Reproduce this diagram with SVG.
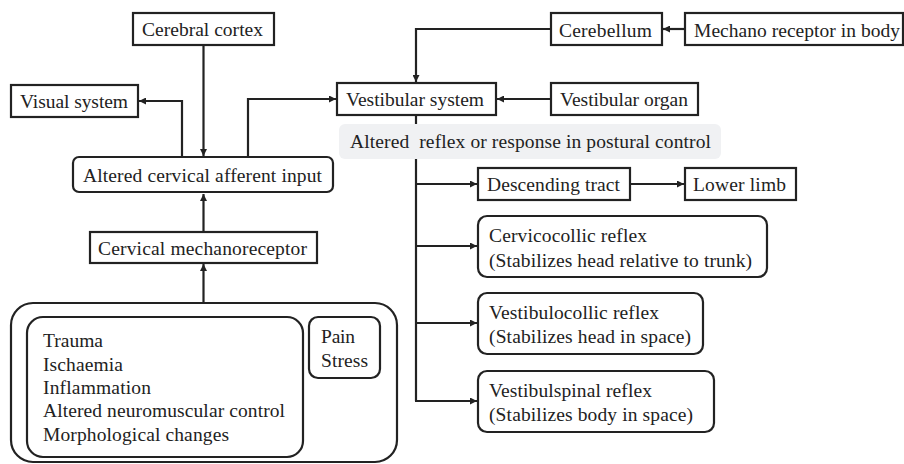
<svg xmlns="http://www.w3.org/2000/svg" width="904" height="464" viewBox="0 0 904 464">
<style>
.b{fill:#fff;stroke:#222;stroke-width:2.2}
.t{font-family:"Liberation Serif","Times New Roman","DejaVu Serif",serif;font-size:19.5px;fill:#222}
.m{text-anchor:middle}
.c{fill:none;stroke:#222;stroke-width:2.2}
</style>
<defs>
<marker id="a" viewBox="0 0 10 10" refX="10" refY="5" markerWidth="8" markerHeight="7" markerUnits="userSpaceOnUse" orient="auto">
<path d="M0,0L10,5L0,10z" fill="#222"/>
</marker>
</defs>
<rect width="904" height="464" fill="#fff"/>
<g id="connectors">
<path class="c" d="M203.5,45V156" marker-end="url(#a)"/>
<path class="c" d="M182,157V101H139" marker-end="url(#a)"/>
<path class="c" d="M248,157V99H336" marker-end="url(#a)"/>
<path class="c" d="M203.5,232V194" marker-end="url(#a)"/>
<path class="c" d="M203.5,303V264" marker-end="url(#a)"/>
<path class="c" d="M551,29H416V82" marker-end="url(#a)"/>
<path class="c" d="M685,29H663" marker-end="url(#a)"/>
<path class="c" d="M551,99H497" marker-end="url(#a)"/>
<path class="c" d="M416,115V401"/>
<path class="c" d="M415,184H477" marker-end="url(#a)"/>
<path class="c" d="M415,246H477" marker-end="url(#a)"/>
<path class="c" d="M415,323H477" marker-end="url(#a)"/>
<path class="c" d="M415,401H477" marker-end="url(#a)"/>
<path class="c" d="M630,184H684" marker-end="url(#a)"/>
</g>
<g id="cerebral-cortex"><rect class="b" x="133" y="13" width="141" height="32"/><text class="t" x="142" y="36" textLength="121">Cerebral cortex</text></g>
<g id="visual-system"><rect class="b" x="11" y="85" width="127" height="32"/><text class="t" x="20" y="108" textLength="108">Visual system</text></g>
<g id="altered-cervical"><rect class="b" x="73" y="157" width="260" height="35" rx="6"/><text class="t" x="83" y="182" textLength="239">Altered cervical afferent input</text></g>
<g id="cervical-mechanoreceptor"><rect class="b" x="90" y="232" width="227" height="31"/><text class="t" x="98" y="255" textLength="209">Cervical mechanoreceptor</text></g>
<g id="causes">
<rect class="b" x="11" y="303" width="386" height="159" rx="22"/>
<rect class="b" x="27" y="317" width="276" height="140" rx="16"/>
<text class="t" x="43" y="347" textLength="60">Trauma</text>
<text class="t" x="43" y="371" textLength="80">Ischaemia</text>
<text class="t" x="43" y="394" textLength="108">Inflammation</text>
<text class="t" x="43" y="417" textLength="242">Altered neuromuscular control</text>
<text class="t" x="43" y="441" textLength="186">Morphological changes</text>
<rect class="b" x="309" y="317" width="71" height="61" rx="9"/>
<text class="t" x="321" y="343" textLength="34">Pain</text>
<text class="t" x="321" y="367" textLength="47">Stress</text>
</g>
<g id="vestibular-system"><rect class="b" x="337" y="83" width="159" height="32"/><text class="t" x="346" y="106" textLength="138">Vestibular system</text></g>
<g id="cerebellum"><rect class="b" x="551" y="13" width="111" height="32"/><text class="t" x="559" y="37" textLength="93">Cerebellum</text></g>
<g id="mechano-receptor"><rect class="b" x="685" y="13" width="218" height="32"/><text class="t" x="694" y="37" textLength="206">Mechano receptor in body</text></g>
<g id="vestibular-organ"><rect class="b" x="551" y="83" width="147" height="32"/><text class="t" x="560" y="106" textLength="128">Vestibular organ</text></g>
<g id="postural-label"><rect x="339" y="124" width="382" height="35" rx="6" fill="#f0f1f3"/><text class="t" x="350" y="148" textLength="361" xml:space="preserve">Altered  reflex or response in postural control</text></g>
<g id="descending-tract"><rect class="b" x="478" y="168" width="152" height="32"/><text class="t" x="487" y="191" textLength="133">Descending tract</text></g>
<g id="lower-limb"><rect class="b" x="685" y="168" width="111" height="32"/><text class="t" x="693" y="191" textLength="93">Lower limb</text></g>
<g id="cervicocollic"><rect class="b" x="478" y="216" width="289" height="61" rx="9"/><text class="t" x="489" y="242" textLength="158">Cervicocollic reflex</text><text class="t" x="489" y="267" textLength="263">(Stabilizes head relative to trunk)</text></g>
<g id="vestibulocollic"><rect class="b" x="478" y="293" width="225" height="61" rx="9"/><text class="t" x="489" y="319" textLength="170">Vestibulocollic reflex</text><text class="t" x="489" y="343" textLength="202">(Stabilizes head in space)</text></g>
<g id="vestibulospinal"><rect class="b" x="478" y="371" width="236" height="61" rx="9"/><text class="t" x="489" y="397" textLength="163">Vestibulspinal reflex</text><text class="t" x="489" y="421" textLength="204">(Stabilizes body in space)</text></g>
</svg>
